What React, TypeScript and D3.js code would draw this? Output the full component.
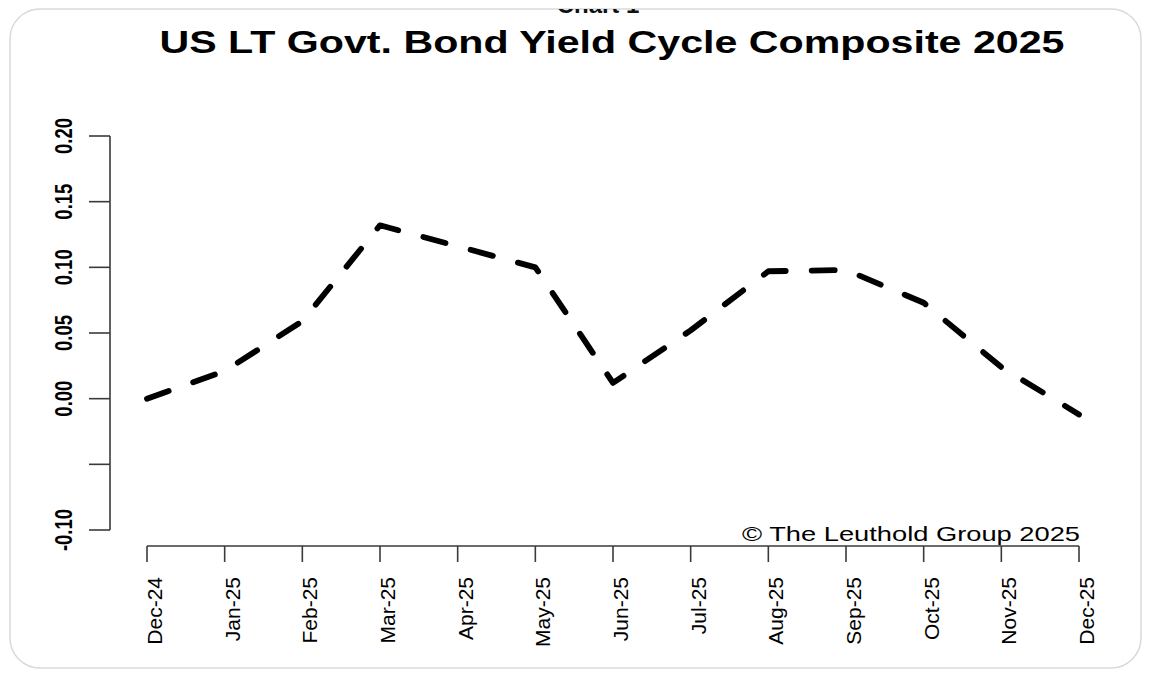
import * as d3 from 'd3';
import React from 'react';

const months = [
  'Dec-24', 'Jan-25', 'Feb-25', 'Mar-25', 'Apr-25', 'May-25', 'Jun-25',
  'Jul-25', 'Aug-25', 'Sep-25', 'Oct-25', 'Nov-25', 'Dec-25',
];
const composite = [
  0.0, 0.021, 0.059, 0.132, 0.116, 0.1, 0.012, 0.052, 0.097, 0.098, 0.073, 0.024, -0.012,
];
const yTicks = [-0.1, -0.05, 0.0, 0.05, 0.1, 0.15, 0.2];
const yTickLabels = ['-0.10', '', '0.00', '0.05', '0.10', '0.15', '0.20'];

const W = 1160;
const H = 680;
const font = '"Liberation Sans", Arial, Helvetica, sans-serif';
const axisColor = '#3a3a3a';

export default function App() {
  const x = d3.scalePoint<string>().domain(months).range([147, 1079]);
  const y = d3.scaleLinear().domain([-0.1, 0.2]).range([530, 136]);

  const line = d3
    .line<number>()
    .x((_, i) => x(months[i])!)
    .y((d) => y(d));

  const axisY = 546; // x axis baseline
  const axisX = 110; // y axis position

  return (
    <svg
      width={W}
      height={H}
      style={{ position: 'absolute', left: 0, top: 0, background: '#fff' }}
      fontFamily={font}
    >
      <defs>
        <clipPath id="card">
          <rect x={10} y={9} width={1131} height={659} rx={30} />
        </clipPath>
      </defs>
      <rect x={0} y={0} width={W} height={H} fill="#fff" />
      <rect
        x={10}
        y={9}
        width={1131}
        height={659}
        rx={30}
        fill="#fff"
        stroke="#d3dbdf"
        strokeWidth={1.5}
      />

      <g clipPath="url(#card)">
        {/* chart number, cropped by the card edge as in the source */}
        <text x={598} y={13} textAnchor="middle" fontSize={24} fontWeight="bold" fill="#111">
          Chart 1
        </text>
      </g>

      <text
        x={612}
        y={53}
        textAnchor="middle"
        fontSize={32}
        fontWeight="bold"
        fill="#000"
        textLength={905}
        lengthAdjust="spacingAndGlyphs"
      >
        US LT Govt. Bond Yield Cycle Composite 2025
      </text>

      {/* y axis */}
      <line x1={axisX} x2={axisX} y1={y(0.2)} y2={y(-0.1)} stroke={axisColor} strokeWidth={1.6} />
      {yTicks.map((t, i) => (
        <g key={t}>
          <line x1={axisX - 21} x2={axisX} y1={y(t)} y2={y(t)} stroke={axisColor} strokeWidth={1.6} />
          {yTickLabels[i] && (
            <text
              transform={`translate(72,${y(t)}) scale(1.3,1) rotate(-90)`}
              textAnchor="middle"
              fontSize={18.5}
              fontWeight="bold"
              fill="#000"
            >
              {yTickLabels[i]}
            </text>
          )}
        </g>
      ))}

      {/* x axis */}
      <line
        x1={x(months[0])}
        x2={x(months[months.length - 1])}
        y1={axisY}
        y2={axisY}
        stroke={axisColor}
        strokeWidth={1.6}
      />
      {months.map((m) => (
        <g key={m}>
          <line x1={x(m)} x2={x(m)} y1={axisY} y2={axisY + 16} stroke={axisColor} strokeWidth={1.6} />
          <text
            transform={`translate(${x(m)! + 15},577) rotate(-90)`}
            textAnchor="end"
            fontSize={21}
            fill="#000"
          >
            {m}
          </text>
        </g>
      ))}

      <path
        d={line(composite) ?? ''}
        fill="none"
        stroke="#000"
        strokeWidth={5.8}
        strokeDasharray="23 26"
        strokeLinecap="round"
        strokeLinejoin="round"
      />

      <text
        x={1080}
        y={541}
        textAnchor="end"
        fontSize={21}
        fill="#000"
        textLength={338}
        lengthAdjust="spacingAndGlyphs"
      >
        © The Leuthold Group 2025
      </text>
    </svg>
  );
}
